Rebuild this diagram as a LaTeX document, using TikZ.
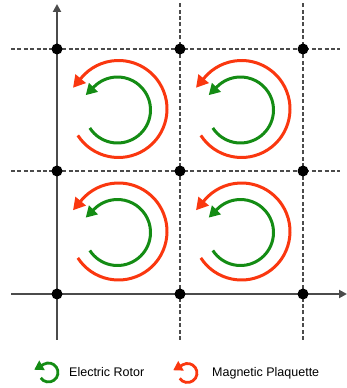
\documentclass[tikz,border=0pt]{standalone}
\usepackage{fontspec}
\setmainfont{Liberation Sans}
\usetikzlibrary{arrows.meta}
\definecolor{myred}{RGB}{250,55,15}
\definecolor{mygreen}{RGB}{20,140,20}
\definecolor{axisgray}{RGB}{75,75,75}
\begin{document}
\begin{tikzpicture}[x=1pt,y=1pt,
  gridline/.style={axisgray, line width=2pt, dash pattern=on 4pt off 2.4pt},
  axisline/.style={axisgray, line width=2.1pt, -{Triangle[length=8pt,width=8pt]}},
  dot/.style={circle, fill=black, inner sep=0pt, minimum size=11pt},
  rotor/.style={mygreen, line width=3pt, -{Triangle[length=11pt,width=12pt]}},
  plaq/.style={myred, line width=3pt, -{Triangle[length=12pt,width=13pt]}},
  rotoricon/.style={mygreen, line width=2.8pt, -{Triangle[length=9pt,width=10.5pt]}},
  plaqicon/.style={myred, line width=2.8pt, -{Triangle[length=9pt,width=10.5pt]}},
  legtext/.style={font=\fontsize{12.5}{15}\selectfont, anchor=base west, inner sep=0pt}]
\useasboundingbox (0,0) rectangle (347,388);
% line end points
\coordinate (hl1) at (11,339); \coordinate (hr1) at (340,339);
\coordinate (hl2) at (11,217); \coordinate (hr2) at (340,217);
\coordinate (vb1) at (180,48); \coordinate (vt1) at (180,385);
\coordinate (vb2) at (303,48); \coordinate (vt2) at (303,385);
\coordinate (ab) at (57,48); \coordinate (at) at (57,384);
\coordinate (al) at (11,94); \coordinate (ar) at (347,94);
% dashed grid
\draw[gridline] (hl1) -- (hr1);
\draw[gridline] (hl2) -- (hr2);
\draw[gridline] (vb1) -- (vt1);
\draw[gridline] (vb2) -- (vt2);
% axes
\draw[axisline] (ab) -- (at);
\draw[axisline] (al) -- (ar);
% dots
\foreach \i/\x in {0/57,1/180,2/303}{
  \foreach \j/\y in {0/94,1/217,2/339}{
    \node[dot] (p\i\j) at (\x,\y) {};
  }
}
% rotors and plaquettes
\foreach \k/\cx/\cy in {a/118.5/155.5, b/241.5/155.5, c/118.5/278, d/241.5/278}{
  \coordinate (gc\k) at (\cx-1,\cy);
  \coordinate (rc\k) at (\cx,\cy+1);
  \draw[plaq] ([shift={(213:48.5)}]rc\k) arc[start angle=213, end angle=500, radius=48.5] -- ++(230:13);
  \draw[rotor] ([shift={(213:33)}]gc\k) arc[start angle=213, end angle=495, radius=33] -- ++(225:12);
}
% legend
\coordinate (gi) at (48.5,15.5);
\coordinate (ri) at (187.5,15);
\draw[rotoricon] ([shift={(215:9.5)}]gi) arc[start angle=215, end angle=480, radius=9.5] -- ++(210:11);
\draw[plaqicon] ([shift={(215:9.5)}]ri) arc[start angle=215, end angle=480, radius=9.5] -- ++(210:11);
\node[legtext] (lt1) at (69,11) {Electric Rotor};
\node[legtext] (lt2) at (212,11) {Magnetic Plaquette};
\end{tikzpicture}
\end{document}
